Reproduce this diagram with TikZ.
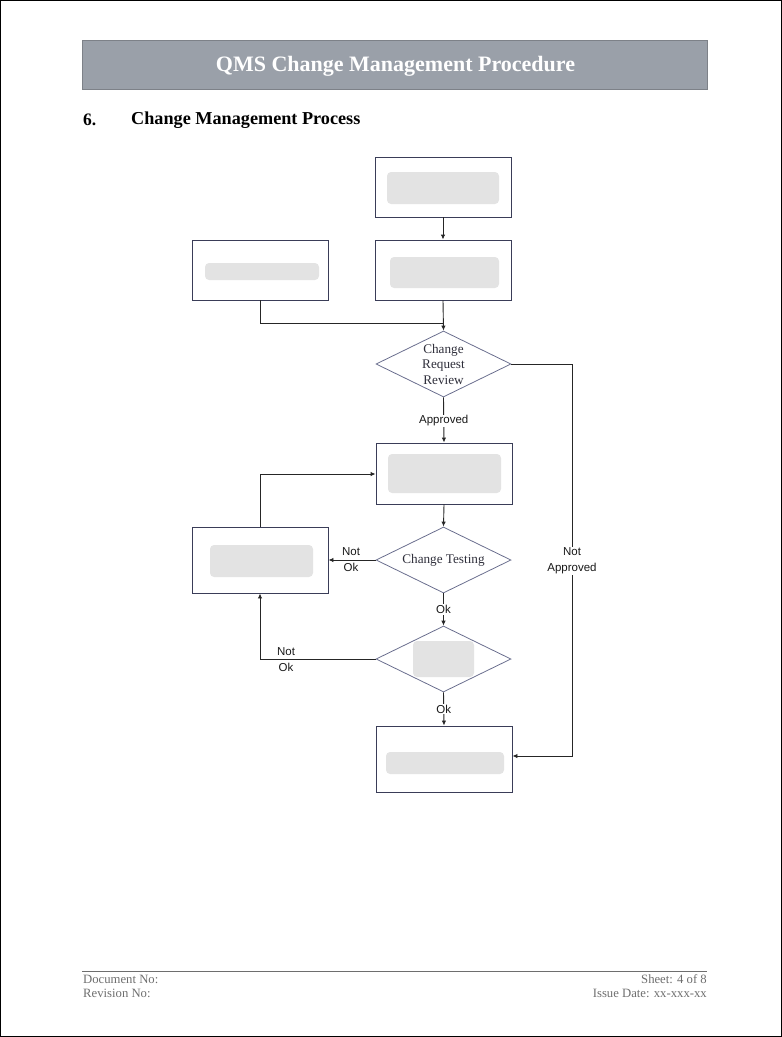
\documentclass[tikz,border=0pt]{standalone}
\usepackage{fontspec}
\setmainfont{Liberation Serif}
\newfontfamily\arialf{Liberation Sans}
\usetikzlibrary{shapes.geometric,arrows.meta,positioning}
\definecolor{boxline}{HTML}{3A3D58}
\definecolor{dialine}{HTML}{6A6E8E}
\definecolor{hdrfill}{HTML}{9AA0A9}
\definecolor{hdrline}{HTML}{7D8188}
\definecolor{foot}{HTML}{6E6E6E}
\definecolor{txt}{HTML}{2E2E3A}
\tikzset{
  procbox/.style={draw=boxline, line width=0.9pt, minimum width=136pt, minimum height=60pt, inner sep=0pt},
  decbox/.style={draw=dialine, line width=0.8pt, diamond, aspect=2.05, minimum width=135pt, minimum height=66pt, inner sep=0pt, font=\fontsize{13.2}{15.5}\selectfont, text=txt, align=center},
  blurbar/.style={fill=black!11, draw=none, rounded corners=4pt},
  conn/.style={draw=black!85, line width=0.9pt},
  arr/.style={conn, -{Latex[length=5pt,width=4.5pt]}},
  lbl/.style={font=\arialf\fontsize{11.5}{16}\selectfont, text=black!90, align=center, inner sep=1pt},
  foottxt/.style={font=\fontsize{12.7}{14}\selectfont, text=foot, inner sep=0pt}
}
\begin{document}
\begin{tikzpicture}[x=1pt,y=-1pt]
\useasboundingbox (0,0) rectangle (782,1037);
\draw[black, line width=1pt] (0.5,0.5) rectangle (781.5,1036.5);
% header
\node[fill=hdrfill, draw=hdrline, line width=0.8pt, minimum width=625pt, minimum height=49pt, inner sep=0pt] (hdr) at (394.5,64.5) {};
\node[text=white, font=\bfseries\fontsize{22}{24}\selectfont] (title) at (395.5,66) {QMS Change Management Procedure};
\node[anchor=west, font=\bfseries\fontsize{17.5}{20}\selectfont, inner sep=0pt] (secnum) at (83,120) {6.};
\node[anchor=west, font=\bfseries\fontsize{18.2}{20}\selectfont, inner sep=0pt] (sec) at (131,120) {Change Management Process};
% boxes
\node[procbox] (b1) at (443,187) {};
\node[procbox] (b2) at (443,270) {};
\node[procbox] (b3) at (260,270) {};
\node[decbox] (d1) at (443.5,364) {Change\\Request\\Review};
\node[procbox, minimum height=61pt] (b4) at (444,473.5) {};
\node[decbox] (d2) at (443.5,560) {Change Testing};
\node[procbox, minimum height=66pt] (b5) at (260,560) {};
\node[decbox] (d3) at (443.5,659) {};
\node[procbox, minimum height=66pt] (b6) at (444,759) {};
% blurred labels
\fill[blurbar] (387,172) rectangle (499,204);
\fill[blurbar] (390,257) rectangle (499,288);
\fill[blurbar] (205,263) rectangle (319,280);
\fill[blurbar] (388,454) rectangle (501,493);
\fill[blurbar] (210,545) rectangle (313,577);
\fill[blurbar] (413,641) rectangle (474,677);
\fill[blurbar] (386,752) rectangle (504,774);
% connectors
\coordinate (j1) at (443,323);
\coordinate (r1) at (572,364);
\coordinate (r2) at (572,756);
\coordinate (l1) at (260,474);
\coordinate (l2) at (260,659);
\draw[arr] (b1.south) -- (b2.north);
\draw[arr] (b2.south) -- (d1.north);
\draw[conn] (b3.south) |- (j1);
\draw[arr] (d1.east) -- (r1) -- (r2) -- (b6.east |- r2);
\node[lbl, fill=white] (na) at (572,561) {Not\\Approved};
\draw[arr] (d1.south) -- node[lbl, fill=white, pos=0.52] (ap) {Approved} (b4.north);
\draw[arr] (b4.south) -- (d2.north);
\draw[arr] (d2.west) -- (b5.east);
\node[lbl] (no1) at (351,560) {Not\\Ok};
\draw[arr] (b5.north) -- (l1) -- (b4.west |- l1);
\draw[arr] (d2.south) -- node[lbl, fill=white] (ok1) {Ok} (d3.north);
\draw[arr] (d3.west) -- (l2) -- (b5.south);
\node[lbl] (no2) at (286,660) {Not\\Ok};
\draw[arr] (d3.south) -- node[lbl, fill=white] (ok2) {Ok} (b6.north);
% footer
\draw[foot, line width=0.8pt] (82,971) coordinate (fl) -- (707,971) coordinate (fr);
\node[foottxt, anchor=west] (dn) at (83,979) {Document No:};
\node[foottxt, anchor=west] (rn) at (83,993) {Revision No:};
\node[foottxt, anchor=east] (sh) at (707,979) {Sheet: 4 of 8};
\node[foottxt, anchor=east] (id) at (707,993) {Issue Date: xx-xxx-xx};
\end{tikzpicture}
\end{document}
